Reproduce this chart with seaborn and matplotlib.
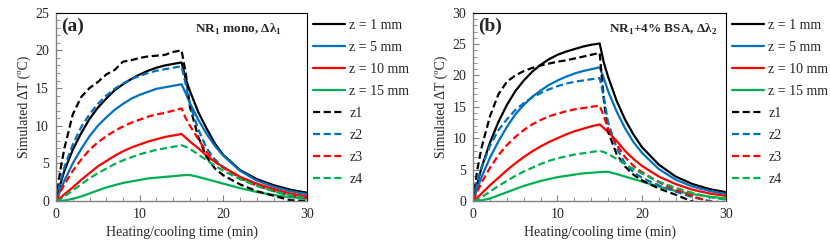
import numpy as np
import pandas as pd
import matplotlib
matplotlib.use("Agg")
import matplotlib.pyplot as plt
import seaborn as sns
from matplotlib.ticker import MultipleLocator

# time axis (min)
time = [0, 0.5, 1, 2, 3, 4, 5, 6, 7, 8, 9, 10, 11, 12, 13, 14, 15,
        15.5, 16, 17, 18, 19, 20, 22, 24, 26, 28, 30]

# panel (a): NR1 mono, dl1
a_z1 = [0, 2.2, 4.0, 6.8, 9.0, 10.9, 12.4, 13.6, 14.7, 15.5, 16.2, 16.8, 17.3, 17.7, 18.0, 18.2, 18.4,
        16.2, 14.6, 11.8, 9.6, 7.6, 6.1, 4.1, 2.9, 2.1, 1.5, 1.1]
a_z5 = [0, 1.4, 2.7, 5.0, 6.9, 8.6, 10.0, 11.1, 12.1, 12.9, 13.6, 14.1, 14.5, 14.9, 15.1, 15.3, 15.5,
        14.3, 13.0, 10.8, 8.9, 7.3, 6.0, 4.0, 2.7, 1.9, 1.3, 0.9]
a_z10 = [0, 0.4, 0.9, 1.8, 2.8, 3.7, 4.6, 5.3, 6.0, 6.6, 7.1, 7.5, 7.9, 8.2, 8.5, 8.7, 8.9,
         8.4, 7.9, 7.0, 6.0, 5.2, 4.5, 3.2, 2.3, 1.6, 1.0, 0.6]
a_z15 = [0, 0, 0.05, 0.3, 0.6, 1.0, 1.4, 1.8, 2.1, 2.4, 2.6, 2.8, 3.0, 3.1, 3.2, 3.3, 3.4,
         3.45, 3.45, 3.2, 2.9, 2.6, 2.3, 1.7, 1.2, 0.8, 0.5, 0.3]
a_d1 = [0, 4.0, 7.0, 11.5, 13.8, 15.0, 15.8, 16.8, 17.4, 18.5, 18.7, 19.0, 19.2, 19.3, 19.4, 19.8, 20.0,
        17.0, 12.5, 8.5, 5.8, 4.3, 3.4, 2.2, 1.3, 0.7, 0.1, 0.0]
a_d2 = [0, 2.5, 4.5, 7.5, 9.8, 11.5, 12.9, 14.0, 14.9, 15.6, 16.2, 16.6, 17.0, 17.3, 17.5, 17.7, 17.9,
        15.5, 12.8, 9.5, 7.0, 5.5, 4.5, 3.0, 2.0, 1.3, 0.7, 0.4]
a_d3 = [0, 1.2, 2.2, 4.0, 5.5, 6.8, 7.8, 8.6, 9.3, 9.9, 10.4, 10.8, 11.2, 11.5, 11.7, 12.0, 12.3,
        11.0, 10.0, 8.2, 6.5, 5.2, 4.4, 3.1, 2.1, 1.4, 0.8, 0.4]
a_d4 = [0, 0.2, 0.6, 1.4, 2.2, 3.0, 3.7, 4.3, 4.9, 5.4, 5.8, 6.2, 6.5, 6.8, 7.0, 7.2, 7.4,
        7.2, 6.9, 6.2, 5.4, 4.7, 4.0, 2.9, 2.0, 1.3, 0.8, 0.4]

# panel (b): NR1 + 4% BSA, dl2
b_z1 = [0, 2.8, 5.3, 9.3, 12.6, 15.3, 17.5, 19.2, 20.6, 21.7, 22.6, 23.3, 23.8, 24.2, 24.6, 24.9, 25.1,
        22.0, 19.8, 16.0, 13.0, 10.6, 8.6, 5.8, 3.9, 2.7, 1.9, 1.4]
b_z5 = [0, 2.0, 3.8, 6.9, 9.5, 11.8, 13.8, 15.3, 16.6, 17.6, 18.5, 19.2, 19.8, 20.3, 20.7, 21.0, 21.3,
        19.5, 17.5, 14.3, 11.6, 9.4, 7.7, 5.1, 3.4, 2.3, 1.6, 1.1]
b_z10 = [0, 0.5, 1.2, 2.5, 3.7, 4.9, 6.0, 7.0, 7.9, 8.7, 9.4, 10.0, 10.6, 11.1, 11.5, 11.9, 12.2,
         11.6, 11.0, 9.6, 8.0, 6.7, 5.6, 3.9, 2.7, 1.8, 1.2, 0.8]
b_z15 = [0, 0, 0.1, 0.4, 0.9, 1.4, 1.9, 2.4, 2.8, 3.2, 3.5, 3.8, 4.0, 4.2, 4.4, 4.5, 4.6,
         4.65, 4.65, 4.3, 3.9, 3.5, 3.1, 2.3, 1.6, 1.1, 0.7, 0.4]
b_d1 = [0, 5.0, 8.5, 13.5, 17.0, 19.0, 20.0, 20.7, 21.2, 21.6, 21.9, 22.2, 22.4, 22.7, 23.0, 23.3, 23.6,
        16.0, 11.0, 7.5, 5.5, 4.2, 3.3, 2.0, 1.0, -0.1, -0.6, -1.0]
b_d2 = [0, 3.0, 5.3, 8.8, 11.3, 13.0, 14.5, 15.6, 16.5, 17.2, 17.8, 18.3, 18.7, 19.0, 19.2, 19.4, 19.6,
        16.5, 12.5, 8.5, 6.0, 4.6, 3.7, 2.5, 1.5, 0.6, 0.0, -0.3]
b_d3 = [0, 1.5, 2.9, 5.3, 7.3, 8.9, 10.2, 11.3, 12.2, 12.9, 13.5, 13.9, 14.3, 14.6, 14.8, 15.0, 15.2,
        13.5, 11.5, 9.0, 7.0, 5.6, 4.6, 3.0, 1.8, 0.8, -0.1, -0.5]
b_d4 = [0, 0.2, 0.6, 1.5, 2.4, 3.2, 4.0, 4.7, 5.3, 5.9, 6.4, 6.8, 7.1, 7.4, 7.6, 7.8, 8.0,
        7.8, 7.5, 6.7, 5.9, 5.1, 4.4, 3.1, 2.1, 1.3, 0.6, 0.2]

labels = ["z = 1 mm", "z = 5 mm", "z = 10 mm", "z = 15 mm", "z1", "z2", "z3", "z4"]
colors = ["black", "#0070C0", "#FF0000", "#00B050"] * 2
dash_styles = [""] * 4 + [(3.2, 1.6)] * 4

sns.set_style("ticks")
plt.rcParams["font.family"] = ["Liberation Serif", "DejaVu Serif"]
plt.rcParams["mathtext.fontset"] = "custom"
plt.rcParams["mathtext.rm"] = "Liberation Serif"
plt.rcParams["mathtext.bf"] = "Liberation Serif:bold"

fig = plt.figure(figsize=(8.3, 2.5), dpi=100)
ax_a = fig.add_axes([0.0675, 0.196, 0.3025, 0.753])
ax_b = fig.add_axes([0.570, 0.196, 0.305, 0.753])

panels = [
    (ax_a, [a_z1, a_z5, a_z10, a_z15, a_d1, a_d2, a_d3, a_d4], 25, "(a)",
     r"NR$_\mathbf{1}$ mono, Δλ$_\mathbf{1}$", 0.90),
    (ax_b, [b_z1, b_z5, b_z10, b_z15, b_d1, b_d2, b_d3, b_d4], 30, "(b)",
     r"NR$_\mathbf{1}$+4% BSA, Δλ$_\mathbf{2}$", 0.965),
]

for ax, series, ymax, tag, note, note_x in panels:
    df = pd.concat([pd.DataFrame({"t": time, "v": s, "series": lab})
                    for s, lab in zip(series, labels)], ignore_index=True)
    sns.lineplot(data=df, x="t", y="v", hue="series", style="series",
                 hue_order=labels, style_order=labels,
                 palette=dict(zip(labels, colors)),
                 dashes=dict(zip(labels, dash_styles)),
                 linewidth=1.6, ax=ax, legend=True)
    ax.set_xlim(0, 30)
    ax.set_ylim(0, ymax)
    ax.xaxis.set_major_locator(MultipleLocator(10))
    ax.xaxis.set_minor_locator(MultipleLocator(2))
    ax.yaxis.set_major_locator(MultipleLocator(5))
    ax.yaxis.set_minor_locator(MultipleLocator(1))
    ax.tick_params(which="both", direction="in", labelsize=10, color="#808080",
                   top=False, right=False, pad=5)
    ax.tick_params(which="major", length=4)
    ax.tick_params(which="minor", length=3)
    for side in ["left", "bottom"]:
        ax.spines[side].set_color("#808080")
        ax.spines[side].set_linewidth(1.0)
    for side in ["top", "right"]:
        ax.spines[side].set_color("black")
        ax.spines[side].set_linewidth(0.8)
    ax.set_xlabel("Heating/cooling time (min)", fontsize=10, labelpad=3)
    ax.set_ylabel("Simulated ΔT (ºC)", fontsize=10, labelpad=3)
    ax.text(0.02, 0.975, tag, transform=ax.transAxes, fontsize=14,
            fontweight="bold", va="top", ha="left")
    ax.text(note_x, 0.95, note, transform=ax.transAxes, fontsize=9.5,
            fontweight="bold", va="top", ha="right")
    leg = ax.legend(loc="upper left", bbox_to_anchor=(1.024, 0.965), frameon=False,
                    fontsize=10, handlelength=2.3, handletextpad=0.3,
                    labelspacing=0.64, borderaxespad=0, borderpad=0)

fig.savefig("out.png", dpi=100)
